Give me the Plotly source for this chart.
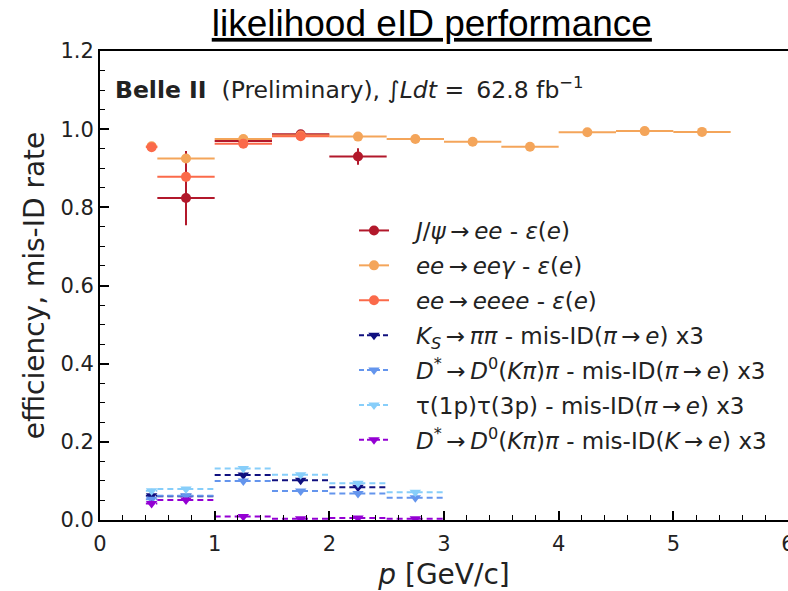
import plotly.graph_objects as go

FONT = "DejaVu Sans"
NB = "\u00a0\u00a0\u00a0"
AR = "\u2009→\u2009"

# ---------------- efficiency series ----------------
jpsi_p = [0.75, 1.25, 1.75, 2.25]
jpsi_lo = [0.5, 1.0, 1.5, 2.0]
jpsi_hi = [1.0, 1.5, 2.0, 2.5]
jpsi_eff = [0.824, 0.970, 0.987, 0.930]
jpsi_up = [0.12, 0.005, 0.004, 0.021]
jpsi_dn = [0.07, 0.005, 0.004, 0.021]

eeg_p = [0.45, 0.75, 1.25, 1.75, 2.25, 2.75, 3.25, 3.75, 4.25, 4.75, 5.25]
eeg_lo = [0.4, 0.5, 1.0, 1.5, 2.0, 2.5, 3.0, 3.5, 4.0, 4.5, 5.0]
eeg_hi = [0.5, 1.0, 1.5, 2.0, 2.5, 3.0, 3.5, 4.0, 4.5, 5.0, 5.5]
eeg_eff = [0.956, 0.925, 0.975, 0.984, 0.981, 0.975, 0.968, 0.955, 0.992, 0.995, 0.993]
eeg_err = [0.004, 0.01, 0.003, 0.002, 0.002, 0.002, 0.002, 0.003, 0.002, 0.002, 0.002]

eeee_p = [0.45, 0.75, 1.25, 1.75]
eeee_lo = [0.4, 0.5, 1.0, 1.5]
eeee_hi = [0.5, 1.0, 1.5, 2.0]
eeee_eff = [0.954, 0.878, 0.963, 0.982]
eeee_err = [0.004, 0.012, 0.004, 0.003]

# ---------------- mis-ID series (x3) ----------------
ks_p = [0.45, 0.75, 1.25, 1.75, 2.25]
ks_lo = [0.4, 0.5, 1.0, 1.5, 2.0]
ks_hi = [0.5, 1.0, 1.5, 2.0, 2.5]
ks_val = [0.062, 0.061, 0.115, 0.102, 0.084]
ks_err = [0.006, 0.003, 0.004, 0.004, 0.005]

dpi_p = [0.45, 0.75, 1.25, 1.75, 2.25, 2.75]
dpi_lo = [0.4, 0.5, 1.0, 1.5, 2.0, 2.5]
dpi_hi = [0.5, 1.0, 1.5, 2.0, 2.5, 3.0]
dpi_val = [0.053, 0.062, 0.100, 0.074, 0.068, 0.057]
dpi_err = [0.005, 0.003, 0.003, 0.003, 0.003, 0.004]

tau_p = [0.45, 0.75, 1.25, 1.75, 2.25, 2.75]
tau_lo = [0.4, 0.5, 1.0, 1.5, 2.0, 2.5]
tau_hi = [0.5, 1.0, 1.5, 2.0, 2.5, 3.0]
tau_val = [0.075, 0.079, 0.132, 0.116, 0.094, 0.071]
tau_err = [0.005, 0.003, 0.003, 0.003, 0.004, 0.004]

dk_p = [0.45, 0.75, 1.25, 1.75, 2.25, 2.75]
dk_lo = [0.4, 0.5, 1.0, 1.5, 2.0, 2.5]
dk_hi = [0.5, 1.0, 1.5, 2.0, 2.5, 3.0]
dk_val = [0.042, 0.051, 0.009, 0.003, 0.005, 0.003]
dk_err = [0.008, 0.004, 0.002, 0.002, 0.002, 0.002]

x_ticks = [0, 1, 2, 3, 4, 5, 6]
y_ticks = [0.0, 0.2, 0.4, 0.6, 0.8, 1.0, 1.2]

fig = go.Figure()


def add_eff(p, lo, hi, v, up, dn, color, name, gid):
    fig.add_trace(go.Scatter(
        x=p, y=v, mode="markers", showlegend=False, legendgroup=gid,
        marker=dict(symbol="circle", size=10, color=color),
        error_x=dict(type="data", symmetric=False,
                     array=[h - c for h, c in zip(hi, p)],
                     arrayminus=[c - l for l, c in zip(lo, p)],
                     color=color, thickness=2, width=0),
        error_y=dict(type="data", symmetric=False, array=up, arrayminus=dn,
                     color=color, thickness=2, width=0),
    ))
    fig.add_trace(go.Scatter(
        x=[None], y=[None], mode="lines+markers", name=NB + name, legendgroup=gid,
        line=dict(color=color, width=2),
        marker=dict(symbol="circle", size=10, color=color),
    ))


def add_mis(p, lo, hi, v, err, color, name, gid):
    xs, ys = [], []
    for l, h, y in zip(lo, hi, v):
        xs += [l, h, None]
        ys += [y, y, None]
    fig.add_trace(go.Scatter(
        x=xs, y=ys, mode="lines", showlegend=False, legendgroup=gid,
        line=dict(color=color, width=2, dash="6px,4px"), hoverinfo="skip",
    ))
    fig.add_trace(go.Scatter(
        x=p, y=v, mode="markers", showlegend=False, legendgroup=gid,
        marker=dict(symbol="triangle-down", size=10, color=color),
        error_y=dict(type="data", array=err, color=color, thickness=1.5, width=0),
    ))
    fig.add_trace(go.Scatter(
        x=[None], y=[None], mode="lines+markers", name=NB + name, legendgroup=gid,
        line=dict(color=color, width=2, dash="5px,3px"),
        marker=dict(symbol="triangle-down", size=10, color=color),
    ))


C_JPSI = "#b2182b"
C_EEG = "#f4a55a"
C_EEEE = "#fb6a4a"
C_KS = "#10107f"
C_DPI = "#6495ed"
C_TAU = "#87cefa"
C_DK = "#9400d3"

add_eff(jpsi_p, jpsi_lo, jpsi_hi, jpsi_eff, jpsi_up, jpsi_dn, C_JPSI,
        "<i>J</i>/<i>ψ</i>" + AR + "<i>ee</i> - <i>ε</i>(<i>e</i>)", "g1")
add_eff(eeg_p, eeg_lo, eeg_hi, eeg_eff, eeg_err, eeg_err, C_EEG,
        "<i>ee</i>" + AR + "<i>eeγ</i> - <i>ε</i>(<i>e</i>)", "g2")
add_eff(eeee_p, eeee_lo, eeee_hi, eeee_eff, eeee_err, eeee_err, C_EEEE,
        "<i>ee</i>" + AR + "<i>eeee</i> - <i>ε</i>(<i>e</i>)", "g3")
add_mis(ks_p, ks_lo, ks_hi, ks_val, ks_err, C_KS,
        "<i>K</i><sub><i>S</i></sub>" + AR + "<i>ππ</i> - mis-ID(<i>π</i>" + AR + "<i>e</i>) x3", "g4")
add_mis(dpi_p, dpi_lo, dpi_hi, dpi_val, dpi_err, C_DPI,
        "<i>D</i><sup>*</sup>" + AR + "<i>D</i><sup>0</sup>(<i>Kπ</i>)<i>π</i> - mis-ID(<i>π</i>" + AR + "<i>e</i>) x3", "g5")
add_mis(tau_p, tau_lo, tau_hi, tau_val, tau_err, C_TAU,
        "τ(1p)τ(3p) - mis-ID(<i>π</i>" + AR + "<i>e</i>) x3", "g6")
add_mis(dk_p, dk_lo, dk_hi, dk_val, dk_err, C_DK,
        "<i>D</i><sup>*</sup>" + AR + "<i>D</i><sup>0</sup>(<i>Kπ</i>)<i>π</i> - mis-ID(<i>K</i>" + AR + "<i>e</i>) x3", "g7")

axis_common = dict(
    showgrid=False, zeroline=False, showline=True, linecolor="black", linewidth=2,
    mirror=True, ticks="inside", tickcolor="black", tickwidth=1.5, ticklen=9,
    tickfont=dict(family=FONT, size=21, color="#222222"),
    ticklabeloverflow="allow", automargin=False,
)

fig.update_layout(
    width=788, height=591,
    margin=dict(l=100, r=0, t=51, b=71, autoexpand=False),
    paper_bgcolor="white", plot_bgcolor="white",
    font=dict(family=FONT, color="#222222"),
    title=dict(
        text="likelihood eID performance",
        font=dict(family="Liberation Sans Narrow, Liberation Sans, Arial", size=37,
                  color="black", lineposition="under"),
        xref="container", yref="container", x=0.548, y=1 - 23 / 591,
        xanchor="center", yanchor="middle", automargin=False,
    ),
    xaxis=dict(
        range=[0, 6], tickvals=x_ticks, ticktext=[str(t) for t in x_ticks],
        minor=dict(ticks="inside", dtick=0.2, ticklen=5, tickcolor="black", tickwidth=1),
        title=dict(text="<i>p</i> [GeV/c]", font=dict(family=FONT, size=28, color="#222222"),
                   standoff=12),
        ticklabelstandoff=4,
        **axis_common,
    ),
    yaxis=dict(
        range=[0, 1.2], tickvals=y_ticks, ticktext=["%.1f" % t for t in y_ticks],
        minor=dict(ticks="inside", dtick=0.05, ticklen=5, tickcolor="black", tickwidth=1),
        title=dict(text="efficiency, mis-ID rate", font=dict(family=FONT, size=28, color="#222222"),
                   standoff=8),
        **axis_common,
    ),
    legend=dict(
        x=(354 - 100) / 688, y=(520 - 209) / 469, xanchor="left", yanchor="top",
        font=dict(family=FONT, size=23, color="#222222"),
        bgcolor="rgba(0,0,0,0)", traceorder="grouped", tracegroupgap=2,
        itemwidth=30,
    ),
    annotations=[dict(
        text="<b>Belle II</b>  (Preliminary), ∫<i>Ldt</i> = \u200962.8 fb<sup>−1</sup>",
        xref="paper", yref="paper", x=(113 - 100) / 688, y=(520 - 88) / 469,
        xanchor="left", yanchor="middle", showarrow=False,
        font=dict(family=FONT, size=23.5, color="#222222"),
    )],
)

fig.write_html("out.html")
